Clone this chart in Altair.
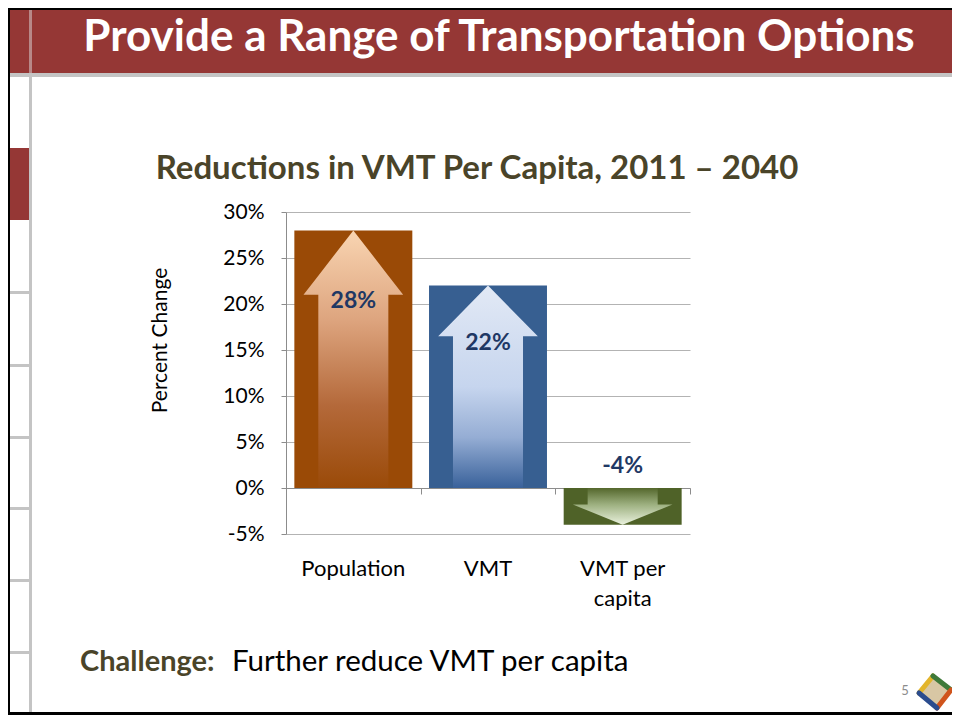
import altair as alt
import pandas as pd

# ---------------- data ----------------
categories = ["Population", "VMT", "VMT per\ncapita"]
values = [28, 22, -4]
value_labels = ["28%", "22%", "-4%"]
bar_colors = ["#9A4A06", "#375F91", "#4F6228"]
y_ticks = [-5, 0, 5, 10, 15, 20, 25, 30]

# ---------------- geometry / style ----------------
PX0, PY0 = 286, 212      # page position of plot origin
W, H = 404, 322
Y_DOM = [-5, 30]
FONT = "Lato"


def px(x):
    return x - PX0


def py(y):
    return y - PY0


BAR_HALF = 0.438
SHAFT_HALF = 0.26
HEAD_HALF = 0.37

centers = [i + 0.5 for i in range(len(categories))]
bars = pd.DataFrame({
    "cat": categories,
    "value": values,
    "label": value_labels,
    "x0": [c - BAR_HALF for c in centers],
    "x1": [c + BAR_HALF for c in centers],
    "xc": centers,
})
label_y = []
for v in values:
    head = max(0.25 * abs(v), 2.2)
    label_y.append(v - head - 0.7 if v > 0 else 2.4)
bars["label_y"] = label_y
bars["base"] = 0


def arrow_df(i):
    v = values[i]
    c = centers[i]
    s = 1 if v > 0 else -1
    head = max(0.25 * abs(v), 2.2)
    hb = v - s * head
    ys = hb + (v - hb) * (HEAD_HALF - SHAFT_HALF) / HEAD_HALF
    pts = [
        (c - HEAD_HALF, hb, hb),
        (c - SHAFT_HALF, ys, hb),
        (c - SHAFT_HALF, ys, 0),
        (c, v, 0),
        (c + SHAFT_HALF, ys, 0),
        (c + SHAFT_HALF, ys, hb),
        (c + HEAD_HALF, hb, hb),
    ]
    return pd.DataFrame({
        "x": [p[0] for p in pts],
        "y": [p[1] for p in pts],
        "y2": [p[2] for p in pts],
    })


x_scale = alt.Scale(domain=[0, 3], nice=False, zero=False)
y_scale = alt.Scale(domain=Y_DOM, nice=False, zero=False)
x_axis = alt.Axis(values=[0, 1, 2, 3], labels=False, title=None, grid=False,
                  offset=-H * (0 - Y_DOM[0]) / (Y_DOM[1] - Y_DOM[0]),
                  domainColor="#8C8C8C", tickColor="#8C8C8C", tickSize=6)
y_axis = alt.Axis(values=y_ticks, labelExpr="datum.value + '%'", title="Percent Change",
                  grid=True, gridColor="#B3B3B3", domainColor="#8C8C8C",
                  tickColor="#8C8C8C", tickSize=5, labelPadding=17,
                  labelFont=FONT, labelFontSize=21, labelColor="black",
                  titleFont=FONT, titleFontSize=21, titleFontWeight="normal",
                  titleColor="black", titleX=-126, titleY=128, titleAngle=270,
                  titleAlign="center", titleBaseline="middle")


def X(f):
    return alt.X(f, type="quantitative", scale=x_scale, axis=x_axis)


def Y(f):
    return alt.Y(f, type="quantitative", scale=y_scale, axis=y_axis)


one = pd.DataFrame({"k": [0]})


# ---------------- slide decorations ----------------
def rect(x0, x1, y0, y1, color, opacity=1):
    return alt.Chart(one).mark_rect(color=color, opacity=opacity).encode(
        x=alt.value(px(x0)), x2=alt.value(px(x1)),
        y=alt.value(py(y0)), y2=alt.value(py(y1)))


def seg(x0, y0, x1, y1, color, width):
    return alt.Chart(one).mark_rule(color=color, strokeWidth=width, strokeCap="round").encode(
        x=alt.value(px(x0)), x2=alt.value(px(x1)),
        y=alt.value(py(y0)), y2=alt.value(py(y1)))


def text(x, y, s, size, color, weight="normal", align="left", baseline="middle"):
    return alt.Chart(one).mark_text(
        text=s, font=FONT, fontSize=size, color=color, fontWeight=weight,
        align=align, baseline=baseline).encode(
        x=alt.value(px(x)), y=alt.value(py(y)))


deco = [
    rect(8, 952, 8, 10, "black"),
    rect(8, 952, 10, 73, "#953735"),
    rect(8, 952, 73, 77, "#C4C4C4"),
    rect(8, 10, 8, 715, "black"),
    rect(29, 32, 10, 73, "#B88888"),
    rect(29, 32, 77, 715, "#C4C4C4"),
    rect(10, 29, 148, 220, "#953735"),
]
for yy in [292, 365, 437, 508, 580, 652]:
    deco.append(rect(10, 29, yy - 1, yy + 2, "#C4C4C4"))
deco.append(rect(8, 952, 712, 715, "black"))

texts = [
    text(499, 38, "Provide a Range of Transportation Options", 44, "white", "bold", "center"),
    text(477, 169, "Reductions in VMT Per Capita, 2011 \u2013 2040", 33, "#4A4429", "bold", "center"),
    text(80, 662, "Challenge:", 29, "#4A4429", "bold"),
    text(232, 662, "Further reduce VMT per capita", 29.5, "black"),
    text(905, 691, "5", 13, "#8C8C8C", "normal", "center"),
]

logo = [
    alt.Chart(one).mark_point(shape="diamond", size=1000, filled=True, color="#D8C7A4", opacity=1).encode(
        x=alt.value(px(935)), y=alt.value(py(692))),
    seg(919, 693, 933, 676, "#E3B52C", 5),
    seg(933, 676, 951, 690, "#3F7A3A", 5),
    seg(951, 690, 937, 708, "#D0541C", 5),
    seg(937, 708, 919, 693, "#2B4C8E", 5),
]

# ---------------- chart marks ----------------
bar_layer = alt.Chart(bars).mark_rect().encode(
    x=X("x0"), x2="x1", y=Y("value"), y2="base",
    color=alt.Color("cat:N", scale=alt.Scale(domain=categories, range=bar_colors), legend=None),
)

grad_specs = [
    [("#F9D5B2", 0), ("#DDA47E", 0.35), ("#B4693A", 0.68), ("#9A4A08", 1)],
    [("#E2E9F5", 0), ("#C6D5EE", 0.5), ("#95ADD4", 0.75), ("#39619A", 1)],
    [("#54672C", 0), ("#9DB080", 0.45), ("#EAF2DE", 1)],
]
arrow_layers = []
for i, stops in enumerate(grad_specs):
    g = alt.Gradient(gradient="linear",
                     stops=[alt.GradientStop(color=c, offset=o) for c, o in stops],
                     x1=0, x2=0, y1=0, y2=1)
    arrow_layers.append(
        alt.Chart(arrow_df(i)).mark_area(color=g, opacity=1, interpolate="linear").encode(
            x=X("x"), y=Y("y"), y2="y2")
    )

value_text = alt.Chart(bars).mark_text(
    font=FONT, fontSize=23, fontWeight="bold", color="#1F3864", baseline="middle").encode(
    x=X("xc"), y=Y("label_y"), text="label:N")

cat_text = alt.Chart(bars).mark_text(
    font=FONT, fontSize=22, color="black", baseline="top", lineBreak="\n", lineHeight=30).encode(
    x=X("xc"), y=alt.value(py(559)), text="cat:N")

chart = alt.layer(
    *deco, bar_layer, *arrow_layers, value_text, cat_text, *texts, *logo
).properties(
    width=W, height=H,
    padding={"left": PX0 - 8, "top": PY0 - 8, "right": 952 - (PX0 + W), "bottom": 715 - (PY0 + H)},
    autosize=alt.AutoSizeParams(type="none"),
    background="white",
).configure_view(stroke=None)

chart.save("out.html", embed_options={"renderer": "svg", "actions": False})
